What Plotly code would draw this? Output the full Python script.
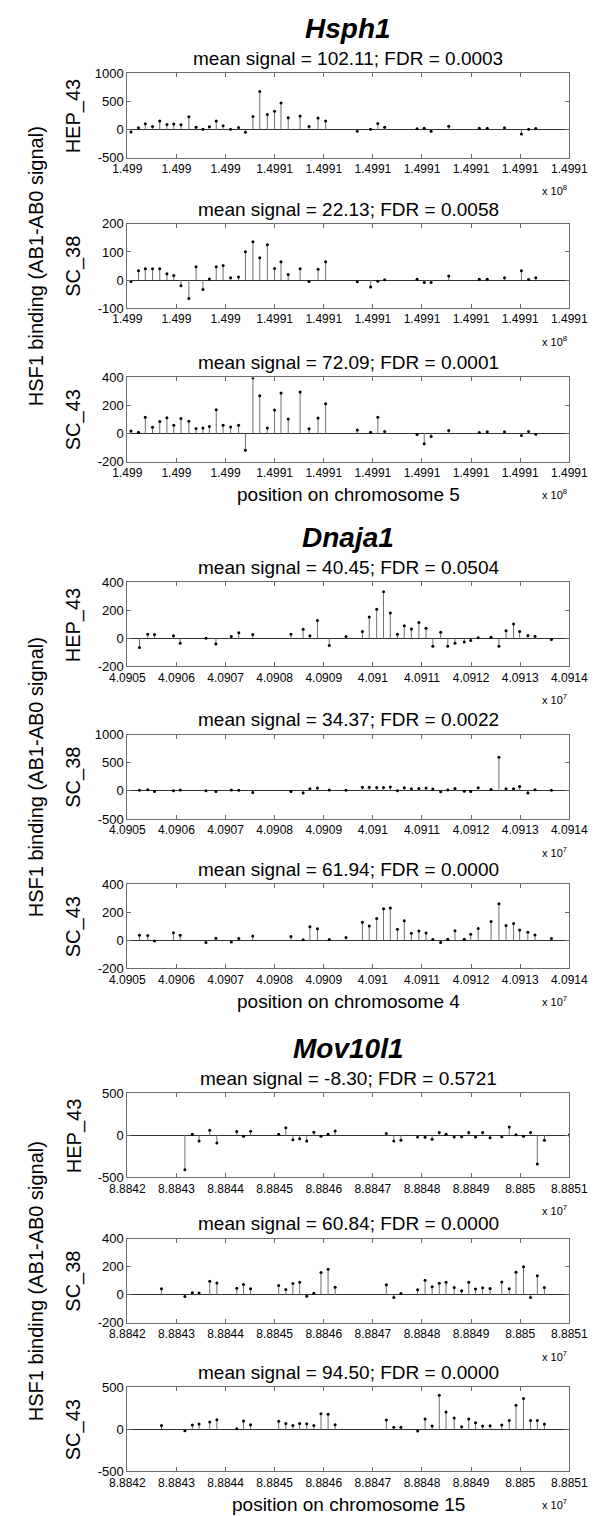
import plotly.graph_objects as go

W, H = 600, 1516
FONT = "Liberation Sans, Arial, Helvetica, sans-serif"
AXIS = "#6b6b6b"
STEM = "#707070"

# ---- data ----------------------------------------------------------------
HSPH1_POS = [149902573, 149902727, 149902866, 149903013, 149903160, 149903306,
             149903445, 149903592, 149903753, 149903900, 149904039, 149904171,
             149904310, 149904450, 149904603, 149904765, 149904904, 149905058,
             149905197, 149905351, 149905498, 149905629, 149905776, 149906018,
             149906201, 149906384, 149906538, 149907183, 149907454, 149907601,
             149907740, 149908400, 149908546, 149908686, 149909045, 149909668,
             149909829, 149910181, 149910525, 149910672, 149910818]
HSPH1_HEP_43 = [-45, 30, 105, 55, 150, 90, 100, 84, 228, 42, 5, 48, 150, 66, 6,
                36, -48, 234, 678, 270, 324, 474, 210, 240, 54, 204, 150, -30,
                5, 108, 42, 12, 24, -30, 60, 24, 24, 30, -78, 4, 18]
HSPH1_SC_38 = [-5, 33, 40, 40, 40, 22, 16, -20, -66, 47, -34, 4, 47, 52, 8, 11,
               101, 136, 79, 126, 41, 65, 20, 40, -5, 38, 65, -6, -25, -4, 1, 3,
               -9, -9, 14, 3, 3, 8, 33, 2, 8]
HSPH1_SC_43 = [17, 9, 116, 45, 85, 113, 59, 106, 87, 35, 40, 50, 170, 59, 47, 59,
               -120, 398, 269, 40, 168, 288, 104, 295, 33, 111, 212, 24, 9, 116,
               14, -7, -73, -21, 21, 7, 12, 12, -14, 14, -5]

DNAJA1_POS = [40905247, 40905415, 40905553, 40905939, 40906077, 40906601,
              40906804, 40907117, 40907270, 40907554, 40908332, 40908580,
              40908718, 40908871, 40909111, 40909453, 40909787, 40909926,
              40910078, 40910217, 40910355, 40910500, 40910639, 40910784,
              40910937, 40911083, 40911221, 40911381, 40911526, 40911672,
              40911861, 40911992, 40912145, 40912407, 40912567, 40912712,
              40912865, 40912989, 40913156, 40913302, 40913636]
DNAJA1_HEP_43 = [-65, 30, 28, 19, -35, 2, -40, 14, 40, 28, 30, 65, 19, 128, -51,
                 14, 49, 152, 208, 332, 182, 30, 91, 68, 114, 72, -56, 44, -56,
                 -35, -26, -14, 5, 9, -56, 54, 103, 49, 21, 16, -7]
DNAJA1_SC_38 = [10, 20, -10, 5, 15, 5, -10, 15, 10, -30, -10, -35, 40, 50, 15, 10,
                65, 65, 60, 60, 70, 5, 55, 40, 45, 50, 35, -15, 15, 45, -5, -10,
                55, 25, 600, 40, 40, 80, -35, 20, 10]
DNAJA1_SC_43 = [37, 35, -5, 55, 37, -14, 16, -12, 14, 32, 28, 5, 97, 83, 7, 21,
                129, 102, 157, 226, 231, 79, 141, 51, 67, 53, 7, -14, 9, 69, 9,
                44, 85, 134, 261, 106, 120, 74, 58, 39, 14]

MOV10L1_POS = [88842695, 88843172, 88843324, 88843461, 88843678, 88843823,
               88844228, 88844366, 88844510, 88845082, 88845227, 88845371,
               88845509, 88845653, 88845798, 88845943, 88846088, 88846232,
               88847274, 88847426, 88847571, 88847911, 88848063, 88848207,
               88848352, 88848490, 88848656, 88848808, 88848953, 88849090,
               88849235, 88849387, 88849625, 88849777, 88849915, 88850067,
               88850211, 88850349, 88850493, 88851000]
MOV10L1_HEP_43 = [None, -410, 12, -67, 60, -91, 44, -12, 48, 12, 91, -52, -40,
                  -67, 36, -12, 12, 52, 20, -67, -60, -20, -24, -48, 32, 12, -20,
                  -16, 32, -20, 32, -28, -16, 99, 8, -12, 32, -341, -60, 3]
MOV10L1_SC_38 = [44, -12, 16, 14, 97, 85, 48, 74, 44, 67, 39, 81, 90, -9, 12, 159,
                 182, 55, 72, -18, 9, 37, 104, 58, 83, 90, 53, 30, 90, 42, 51, 46,
                 92, 44, 162, 201, -18, 136, 53, None]
MOV10L1_SC_43 = [47, -16, 51, 63, 87, 114, 8, 98, 55, 95, 71, 47, 71, 67, 47, 185,
                 181, 55, 110, 24, 24, -20, 122, 39, 406, 205, 134, 32, 122, 79,
                 39, 43, 51, 106, 288, 366, 106, 106, 63, None]

GENES = ["Hsph1", "Dnaja1", "Mov10l1"]
SAMPLES = ["HEP_43", "SC_38", "SC_43"]
CHROMOSOMES = ["5", "4", "15"]
EXPONENTS = ["8", "7", "7"]

X_START = [149902500, 40905000, 88842000]
X_STEP = 1000
X_TICKTEXT = [
    ["1.499", "1.499", "1.499", "1.4991", "1.4991", "1.4991", "1.4991",
     "1.4991", "1.4991", "1.4991"],
    ["4.0905", "4.0906", "4.0907", "4.0908", "4.0909", "4.091", "4.0911",
     "4.0912", "4.0913", "4.0914"],
    ["8.8842", "8.8843", "8.8844", "8.8845", "8.8846", "8.8847", "8.8848",
     "8.8849", "8.885", "8.8851"],
]

SUBTITLES = [
    ["mean signal = 102.11; FDR = 0.0003", "mean signal = 22.13; FDR = 0.0058",
     "mean signal = 72.09; FDR = 0.0001"],
    ["mean signal = 40.45; FDR = 0.0504", "mean signal = 34.37; FDR = 0.0022",
     "mean signal = 61.94; FDR = 0.0000"],
    ["mean signal = -8.30; FDR = 0.5721", "mean signal = 60.84; FDR = 0.0000",
     "mean signal = 94.50; FDR = 0.0000"],
]
Y_TICKS = [
    [[-500, 0, 500, 1000], [-100, 0, 100, 200], [-200, 0, 200, 400]],
    [[-200, 0, 200, 400], [-500, 0, 500, 1000], [-200, 0, 200, 400]],
    [[-500, 0, 500], [-200, 0, 200, 400], [-500, 0, 500]],
]

POSITIONS = [HSPH1_POS, DNAJA1_POS, MOV10L1_POS]
VALUES = [
    [HSPH1_HEP_43, HSPH1_SC_38, HSPH1_SC_43],
    [DNAJA1_HEP_43, DNAJA1_SC_38, DNAJA1_SC_43],
    [MOV10L1_HEP_43, MOV10L1_SC_38, MOV10L1_SC_43],
]

# ---- layout in pixels ----------------------------------------------------
PANEL_TOPS = [[59, 211, 366], [573, 727, 878], [1089, 1236, 1386]]
PANEL_H = 85
BOX_L, BOX_R = 108, 579


def py(px):
    return 1 - px / H


fig = go.Figure()
annotations = []


def add_text(text, x, y, size, xanchor="center", angle=0, **font):
    annotations.append(dict(
        text=text, x=x / W, y=py(y), xref="paper", yref="paper",
        xanchor=xanchor, yanchor="middle", showarrow=False, textangle=angle,
        font=dict(family=FONT, size=size, color="black", **font),
    ))


n = 0
for g, gene in enumerate(GENES):
    pos = POSITIONS[g]
    ticks = [X_START[g] + k * X_STEP for k in range(len(X_TICKTEXT[g]))]
    for s, sample in enumerate(SAMPLES):
        n += 1
        top = PANEL_TOPS[g][s]
        bottom = top + PANEL_H
        vals = VALUES[g][s]
        xs, ys, mx, my = [], [], [], []
        for p, v in zip(pos, vals):
            if v is None:
                continue
            xs += [p, p, None]
            ys += [0, v, None]
            mx.append(p)
            my.append(v)
        xa = "x" if n == 1 else f"x{n}"
        ya = "y" if n == 1 else f"y{n}"
        fig.add_trace(go.Scatter(x=xs, y=ys, mode="lines", xaxis=xa, yaxis=ya,
                                 line=dict(color=STEM, width=1),
                                 hoverinfo="skip", showlegend=False))
        fig.add_trace(go.Scatter(x=mx, y=my, mode="markers", xaxis=xa, yaxis=ya,
                                 marker=dict(color="black", size=3),
                                 showlegend=False))
        common = dict(showline=True, linecolor=AXIS, linewidth=1, mirror="ticks",
                      ticks="inside", ticklen=4, tickcolor=AXIS, showgrid=False,
                      fixedrange=True)
        yt = Y_TICKS[g][s]
        fig.layout[f"xaxis{n}"] = dict(
            common, domain=[BOX_L / W, BOX_R / W], anchor=ya,
            range=[ticks[0], ticks[-1]], tickvals=ticks, ticktext=X_TICKTEXT[g],
            zeroline=False, tickfont=dict(family=FONT, size=12, color="black"))
        fig.layout[f"yaxis{n}"] = dict(
            common, domain=[py(bottom), py(top)], anchor=xa,
            range=[yt[0], yt[-1]], tickvals=yt, ticktext=[str(t) for t in yt],
            zeroline=True, zerolinecolor="#333333", zerolinewidth=1,
            tickfont=dict(family=FONT, size=13, color="black"))

        add_text(SUBTITLES[g][s], (BOX_L + BOX_R) / 2, top - 15, 19)
        add_text(sample, 51, top + PANEL_H / 2, 20, angle=-90)
        add_text("x 10<sup>" + EXPONENTS[g] + "</sup>", BOX_R, bottom + 33, 11,
                 xanchor="right")
        if s == 0:
            add_text(f"<b><i>{gene}</i></b>", (BOX_L + BOX_R) / 2, top - 45, 28)
        if s == 1:
            add_text("HSF1 binding (AB1-AB0 signal)", 11, top + PANEL_H / 2, 20,
                     angle=-90)
        if s == 2:
            add_text(f"position on chromosome {CHROMOSOMES[g]}",
                     (BOX_L + BOX_R) / 2, bottom + 33, 19)

fig.update_layout(
    width=W, height=H, margin=dict(l=0, r=0, t=0, b=0),
    paper_bgcolor="white", plot_bgcolor="white",
    font=dict(family=FONT, color="black"),
    annotations=annotations, showlegend=False,
)

fig.write_html("out.html")
